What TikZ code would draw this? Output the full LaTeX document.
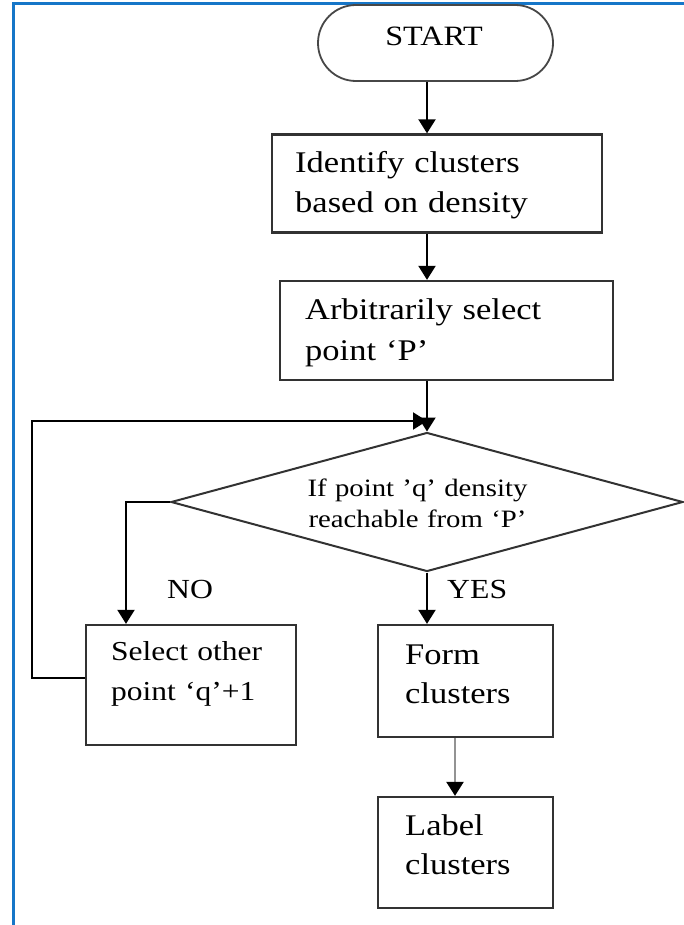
\documentclass[tikz,border=0pt]{standalone}
\usepackage{fontspec}
\setmainfont{Liberation Serif}[FakeStretch=1.15]
\usetikzlibrary{arrows.meta,shapes.geometric}
\definecolor{frameblue}{RGB}{22,118,200}
\definecolor{boxline}{RGB}{50,50,50}
\begin{document}
\begin{tikzpicture}[x=1pt,y=-1pt,
  box/.style={draw=boxline,line width=2.3pt,rectangle,inner sep=0pt},
  startbox/.style={draw=boxline!90,line width=1.8pt,rectangle,rounded corners=37.9pt,inner sep=0pt,minimum width=235pt,minimum height=76pt},
  dia/.style={draw=boxline,line width=2pt,diamond,inner sep=0pt,minimum width=512pt,minimum height=139pt},
  bigtxt/.style={anchor=base west,inner sep=0pt,text width=300pt,align=left,font=\fontsize{30}{39.5}\selectfont},
  midtxt/.style={anchor=base west,inner sep=0pt,text width=300pt,align=left,font=\fontsize{27.4}{40}\selectfont},
  lbl/.style={anchor=base west,inner sep=0pt,font=\fontsize{27.6}{33}\selectfont},
  arr/.style={draw=black,line width=2pt,-{Triangle[width=17pt,length=14pt]}}]
\useasboundingbox (0,0) rectangle (684,925);
% blue frame (left and top)
\draw[frameblue,line width=3pt] (13.5,925) -- (13.5,4) -- (684,4);
% nodes
\node[startbox] (start) at (435.5,43) {};
\node[anchor=base,inner sep=0pt,font=\fontsize{28}{33}\selectfont] (startt) at (434,46) {START};
\node[box,minimum width=330pt,minimum height=98pt] (b1) at (437,183.5) {};
\node[bigtxt] (b1t) at (295,173) {Identify clusters\\based on density};
\node[box,minimum width=333pt,minimum height=99pt] (b2) at (446.5,330.5) {};
\node[bigtxt,font=\fontsize{30}{41}\selectfont] (b2t) at (305,319) {Arbitrarily select\\point ‘P’};
\node[dia] (d) at (427,502) {};
\node[anchor=base,inner sep=0pt,text width=300pt,align=center,font=\fontsize{25}{31}\selectfont] (dt) at (417.5,496) {If point ’q’ density\\reachable from ‘P’};
\node[box,minimum width=210pt,minimum height=120pt] (b3) at (191,685) {};
\node[midtxt] (b3t) at (111,660) {Select other\\point ‘q’+1};
\node[box,minimum width=175pt,minimum height=112pt] (b4) at (465.5,681) {};
\node[bigtxt] (b4t) at (405,664) {Form\\clusters};
\node[box,minimum width=175pt,minimum height=111pt] (b5) at (465.5,852.5) {};
\node[bigtxt] (b5t) at (405,835) {Label\\clusters};
\node[lbl] (no) at (167,598) {NO};
\node[lbl] (yes) at (447,598) {YES};
\coordinate (lp) at (32,421);
% connectors
\draw[arr] (start.south -| d.north) -- (b1.north -| d.north);
\draw[arr] (b1.south -| d.north) -- (b2.north -| d.north);
\draw[arr] (b2.south -| d.north) -- (d.north);
\draw[arr] ([yshift=7pt]b3.west) -| (lp) -- (lp -| d.north);
\draw[arr] (d.west) -| ([xshift=-65pt]b3.north);
\draw[arr] (d.south) -- (d.south |- b4.north);
\draw[draw=gray!85,line width=2.4pt,-{Triangle[width=17pt,length=14pt,color=black]}] ([xshift=-10.5pt]b4.south) -- ([xshift=-10.5pt]b5.north);
\end{tikzpicture}
\end{document}
